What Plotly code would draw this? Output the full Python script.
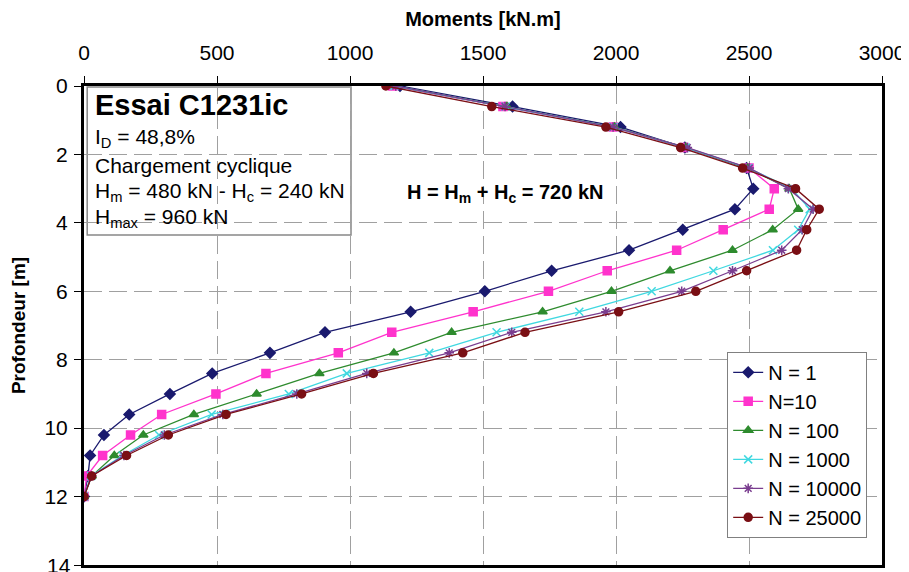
import plotly.graph_objects as go

# depth of each measuring point [m]
depth = [0, 0.6, 1.2, 1.8, 2.4, 3.0, 3.6, 4.2, 4.8, 5.4, 6.0,
         6.6, 7.2, 7.8, 8.4, 9.0, 9.6, 10.2, 10.8, 11.4, 12.0]

# bending moments [kN.m]
n_1 = [1188, 1611, 2017, 2259, 2491, 2516, 2447, 2251, 2049, 1758, 1507,
       1228, 906, 699, 482, 323, 170, 75, 23, 15, 0]
n_10 = [1161, 1575, 1989, 2255, 2500, 2595, 2576, 2403, 2228, 1967, 1746,
        1463, 1157, 956, 684, 496, 292, 175, 70, 10, 0]
n_100 = [1170, 1590, 1995, 2262, 2495, 2652, 2685, 2589, 2438, 2203, 1983,
         1724, 1382, 1165, 885, 649, 413, 223, 114, 29, 0]
n_1000 = [1168, 1585, 1990, 2262, 2498, 2660, 2728, 2685, 2590, 2366, 2134,
          1862, 1551, 1298, 988, 770, 480, 282, 145, 27, 0]
n_10000 = [1172, 1583, 1989, 2268, 2501, 2648, 2741, 2700, 2623, 2438, 2247,
           1962, 1608, 1373, 1063, 800, 522, 302, 150, 29, 0]
n_25000 = [1135, 1533, 1962, 2243, 2476, 2675, 2764, 2717, 2679, 2491, 2300,
           2010, 1658, 1424, 1088, 818, 534, 317, 160, 29, 0]

y_ticks = [0, 2, 4, 6, 8, 10, 12, 14]

series = [
    ("N = 1", n_1, "#1a1a6e", "diamond"),
    ("N=10", n_10, "#ff33cc", "square"),
    ("N = 100", n_100, "#2e8b2e", "triangle-up"),
    ("N = 1000", n_1000, "#40d8e0", "x-thin-open"),
    ("N = 10000", n_10000, "#7a3d8f", "asterisk-open"),
    ("N = 25000", n_25000, "#7a0f14", "circle"),
]

FONT = "Liberation Sans, Arial, sans-serif"

fig = go.Figure()
for name, vals, color, symbol in series:
    fig.add_trace(go.Scatter(
        x=vals, y=depth, name=name, mode="lines+markers", legendgroup=name,
        line=dict(color=color, width=1.3),
        marker=dict(symbol=symbol, size=8, color=color,
                    line=dict(color=color, width=1.5)),
    ))

axis_style = dict(
    ticks="outside", ticklen=7, tickcolor="black", tickfont=dict(size=21),
    showline=True, linewidth=3, linecolor="black", mirror=True,
    showgrid=True, gridcolor="#a0a0a0", gridwidth=1, griddash="18px,7px",
    zeroline=False, automargin=False,
)

fig.update_xaxes(side="top", range=[0, 3000], tick0=0, dtick=500, ticklabelstandoff=8,
                 title=dict(text="<b>Moments [kN.m]</b>", font=dict(size=20), standoff=16),
                 **axis_style)
# the last label (14) is cut by the page edge, drawn below as an annotation
fig.update_yaxes(range=[14, 0], tickvals=y_ticks,
                 ticktext=[str(v) for v in y_ticks[:-1]] + [""], ticklabelstandoff=2,
                 title=dict(text="<b>Profondeur [m]</b>", font=dict(size=19), standoff=14),
                 **axis_style)
fig.add_annotation(text=str(y_ticks[-1]), xref="paper", x=0, xanchor="right", xshift=-11,
                   y=y_ticks[-1], yanchor="middle", showarrow=False,
                   font=dict(size=21, color="black"))

# info box, top-left corner
fig.add_shape(type="rect", xref="paper", yref="paper", x0=0.004, x1=0.3346,
              y0=0.689, y1=0.998, line=dict(color="#888888", width=1.5),
              fillcolor="white", layer="between")

info = [
    ("<b>Essai C1231ic</b>", 29, 0.960),
    ("I<sub>D</sub> = 48,8%", 21, 0.891),
    ("Chargement cyclique", 21, 0.835),
    ("H<sub>m</sub> = 480 kN - H<sub>c</sub> = 240 kN", 21, 0.779),
    ("H<sub>max</sub> = 960 kN", 21, 0.724),
]
for text, size, ypos in info:
    fig.add_annotation(text=text, xref="paper", yref="paper", x=0.0113, y=ypos,
                       xanchor="left", yanchor="middle", showarrow=False,
                       font=dict(size=size, color="black"))

fig.add_annotation(text="<b>H = H<sub>m</sub> + H<sub>c</sub> = 720 kN</b>",
                   x=1583, y=3.13, showarrow=False, font=dict(size=20, color="black"))

# the page body keeps an 8 px margin, so the figure is 8 px smaller and shifted
fig.update_layout(
    width=901, height=564,
    margin=dict(l=76, r=27, t=78, b=7),
    plot_bgcolor="white", paper_bgcolor="white",
    font=dict(family=FONT, color="black"),
    legend=dict(x=0.806, y=0.445, xanchor="left", yanchor="top",
                bgcolor="white", bordercolor="#808080", borderwidth=1,
                font=dict(size=20), tracegroupgap=0),
)

fig.write_html("out.html")
